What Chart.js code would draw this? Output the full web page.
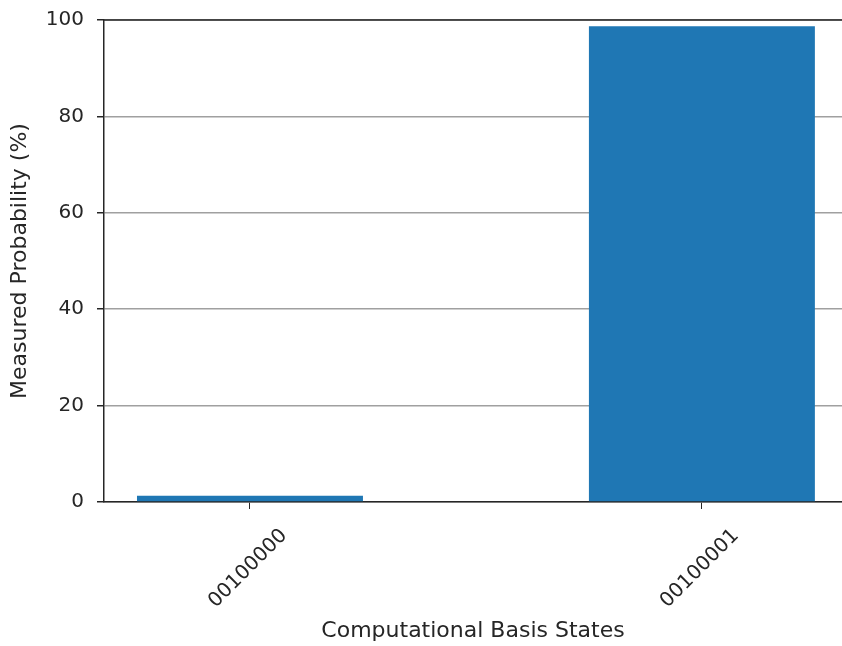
<!DOCTYPE html>
<html>
<head>
<meta charset="utf-8">
<script src="https://cdn.jsdelivr.net/npm/chart.js@4"></script>
<style>
  html, body { margin: 0; padding: 0; background: #fff; }
  #wrap { width: 842px; height: 646px; }
</style>
</head>
<body>
<div id="wrap"><canvas id="hist"></canvas></div>
<script>
// measured basis states and their probabilities (%)
const states = ['00100000', '00100001'];
const probabilities = [1.3, 98.7];
const yTicks = [0, 20, 40, 60, 80, 100];

const ink = '#262626';
const tickFont = { family: 'DejaVu Sans', size: 20 };
const titleFont = { family: 'DejaVu Sans', size: 22 };

// closes the box on top, like a matplotlib spine
const topSpine = {
    id: 'topSpine',
    afterDraw(chart) {
        const { ctx, chartArea } = chart;
        ctx.save();
        ctx.strokeStyle = ink;
        ctx.lineWidth = 1.5;
        ctx.beginPath();
        ctx.moveTo(chartArea.left, chartArea.top);
        ctx.lineTo(chartArea.right + 2, chartArea.top);
        ctx.stroke();
        ctx.restore();
    }
};

const ctx = document.getElementById('hist').getContext('2d');
const chart = new Chart(ctx, {
    type: 'bar',
    data: {
        datasets: [{
            data: states.map((s, i) => ({ x: i, y: probabilities[i] })),
            backgroundColor: '#1f77b4',
            borderWidth: 0,
            barPercentage: 0.5,
            categoryPercentage: 1.0
        }]
    },
    options: {
        responsive: true,
        maintainAspectRatio: false,
        animation: { duration: 0 },
        layout: { padding: { top: 20, right: 0, left: 0, bottom: 0 } },
        plugins: {
            legend: { display: false },
            tooltip: { enabled: false }
        },
        scales: {
            x: {
                type: 'linear',
                offset: false,
                min: -0.323,
                max: 1.31,
                afterBuildTicks: (scale) => {
                    scale.ticks = states.map((s, i) => ({ value: i }));
                },
                afterFit: (scale) => {
                    scale.height = 144;
                    scale.paddingLeft = 0;
                    scale.paddingRight = 0;
                },
                grid: {
                    offset: false,
                    drawOnChartArea: false,
                    drawTicks: true,
                    tickLength: 7,
                    tickColor: ink
                },
                border: { color: ink, width: 1.5 },
                ticks: {
                    color: ink,
                    font: tickFont,
                    minRotation: 45,
                    maxRotation: 45,
                    labelOffset: 34,
                    padding: 15,
                    callback: (v) => states[v]
                },
                title: {
                    display: true,
                    text: 'Computational Basis States',
                    color: ink,
                    font: titleFont,
                    padding: { top: 0, bottom: 2 }
                }
            },
            y: {
                min: 0,
                max: 100,
                afterBuildTicks: (scale) => {
                    scale.ticks = yTicks.map(v => ({ value: v }));
                },
                afterFit: (scale) => {
                    scale.width = 104;
                    scale.paddingTop = 0;
                    scale.paddingBottom = 0;
                },
                grid: {
                    color: '#a0a0a0',
                    lineWidth: 1.5,
                    drawTicks: true,
                    tickLength: 7,
                    tickColor: ink
                },
                border: { color: ink, width: 1.5 },
                ticks: {
                    color: ink,
                    font: tickFont,
                    padding: 13
                },
                title: {
                    display: true,
                    text: 'Measured Probability (%)',
                    color: ink,
                    font: titleFont,
                    padding: { top: 7, bottom: 7 }
                }
            }
        }
    },
    plugins: [topSpine]
});
</script>
</body>
</html>
